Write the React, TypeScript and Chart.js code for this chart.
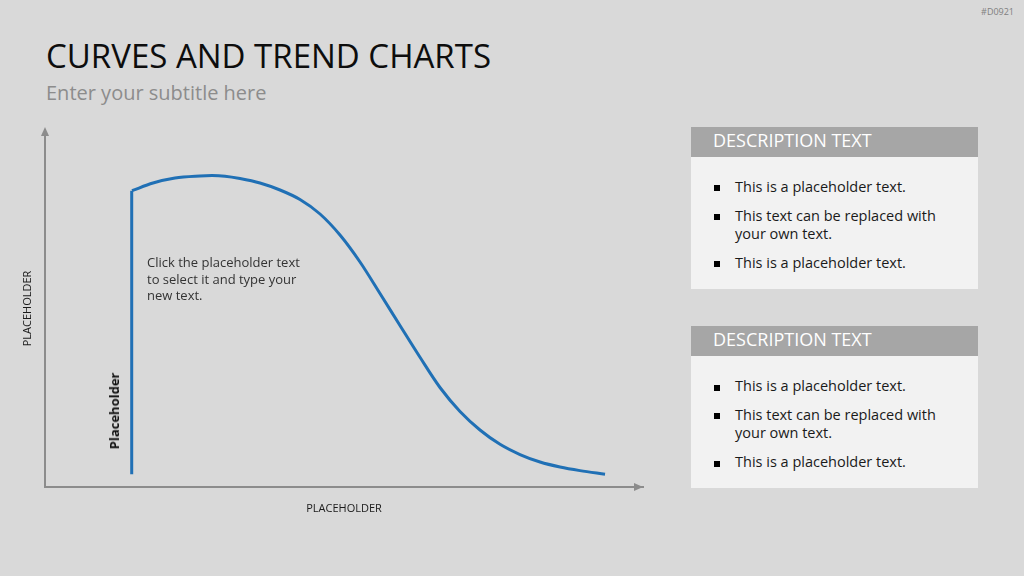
import React, { useEffect, useRef } from "react";
import { Chart, registerables } from "chart.js";

Chart.register(...registerables);

// Data (x: 0-100 along the horizontal axis, y: 0-100 up the vertical axis)
const riseX = [14.5, 14.5];
const riseY = [3.6, 83.0];
const curveX = [14.55, 18.06, 21.74, 25.92, 27.93, 30.10, 32.61, 35.95, 39.30, 42.64, 45.99, 49.33, 52.68, 56.02, 59.36, 62.71, 66.05, 69.40, 72.74, 76.09, 79.43, 82.78, 86.12, 89.46, 93.65];
const curveY = [83.0, 85.15, 86.55, 87.11, 87.23, 87.06, 86.41, 85.15, 83.19, 80.53, 76.47, 70.59, 63.03, 54.20, 45.24, 36.33, 27.87, 21.15, 15.97, 11.96, 9.10, 7.00, 5.60, 4.59, 3.59];
const xAxisTitle = "PLACEHOLDER";
const yAxisTitle = "PLACEHOLDER";
const lineLabel = "Placeholder";
const noteLines = ["Click the placeholder text", "to select it and type your", "new text."];
const boxTitles = ["DESCRIPTION TEXT", "DESCRIPTION TEXT"];
const boxBullets = [
  [["This is a placeholder text."], ["This text can be replaced with", "your own text."], ["This is a placeholder text."]],
  [["This is a placeholder text."], ["This text can be replaced with", "your own text."], ["This is a placeholder text."]],
];

const FONT = "'Open Sans', sans-serif";
const AXIS = "#8c8c8c";
const BLUE = "#2070b5";

const arrowPlugin = {
  id: "arrows",
  afterDraw(chart: any) {
    const { ctx, chartArea } = chart;
    ctx.save();
    ctx.fillStyle = AXIS;
    const lx = chartArea.left;
    const ty = chartArea.top - 3;
    ctx.beginPath();
    ctx.moveTo(lx, ty);
    ctx.lineTo(lx - 4, ty + 9);
    ctx.lineTo(lx + 4, ty + 9);
    ctx.closePath();
    ctx.fill();
    const rx = chartArea.right;
    const by = chartArea.bottom;
    ctx.beginPath();
    ctx.moveTo(rx, by);
    ctx.lineTo(rx - 9, by - 4);
    ctx.lineTo(rx - 9, by + 4);
    ctx.closePath();
    ctx.fill();
    ctx.restore();
  },
};

function CurveChart() {
  const ref = useRef<HTMLCanvasElement | null>(null);
  useEffect(() => {
    if (!ref.current) return;
    const chart = new Chart(ref.current, {
      type: "scatter",
      data: {
        datasets: [
          {
            data: riseX.map((x, i) => ({ x, y: riseY[i] })),
            showLine: true,
            borderColor: BLUE,
            borderWidth: 3,
            pointRadius: 0,
            tension: 0,
            borderCapStyle: "butt",
          },
          {
            data: curveX.map((x, i) => ({ x, y: curveY[i] })),
            showLine: true,
            borderColor: BLUE,
            borderWidth: 3,
            pointRadius: 0,
            cubicInterpolationMode: "monotone",
            borderCapStyle: "butt",
            borderJoinStyle: "round",
          },
        ],
      },
      options: {
        animation: false,
        responsive: false,
        maintainAspectRatio: false,
        layout: { padding: { left: 17.4, top: 30, right: 37, bottom: 20.8 } },
        plugins: { legend: { display: false }, tooltip: { enabled: false } },
        scales: {
          x: {
            type: "linear",
            min: 0,
            max: 100,
            grid: { display: false, drawTicks: false },
            border: { display: true, color: AXIS, width: 2 },
            ticks: { display: false },
            title: {
              display: true,
              text: xAxisTitle,
              color: "#1a1a1a",
              font: { family: FONT, size: 11 },
              padding: { top: 15, bottom: 4 },
            },
          },
          y: {
            type: "linear",
            min: 0,
            max: 100,
            grid: { display: false, drawTicks: false },
            border: { display: true, color: AXIS, width: 2 },
            ticks: { display: false },
            title: {
              display: true,
              text: yAxisTitle,
              color: "#1a1a1a",
              font: { family: FONT, size: 11 },
              padding: { top: 4, bottom: 10.4 },
            },
          },
        },
      } as any,
      plugins: [arrowPlugin],
    });
    return () => chart.destroy();
  }, []);
  return (
    <canvas
      ref={ref}
      width={680}
      height={440}
      style={{ position: "absolute", left: 0, top: 100, width: 680, height: 440 }}
    />
  );
}

function DescBox({ top, title, bullets }: { top: number; title: string; bullets: string[][] }) {
  return (
    <div style={{ position: "absolute", left: 691, top, width: 287 }}>
      <div
        style={{
          height: 30,
          lineHeight: "27px",
          background: "#a6a6a6",
          color: "#ffffff",
          fontSize: 18,
          paddingLeft: 22,
          whiteSpace: "nowrap",
        }}
      >
        {title}
      </div>
      <div style={{ background: "#f2f2f2", height: 132, paddingTop: 21, boxSizing: "border-box" }}>
        {bullets.map((lines, i) => (
          <div
            key={i}
            style={{
              position: "relative",
              paddingLeft: 44,
              fontSize: 14.5,
              lineHeight: "18.3px",
              color: "#1a1a1a",
              marginBottom: 10.7,
              whiteSpace: "nowrap",
            }}
          >
            <span
              style={{
                position: "absolute",
                left: 23,
                top: 7.5,
                width: 6,
                height: 6,
                background: "#000",
              }}
            />
            {lines.map((l, j) => (
              <div key={j}>{l}</div>
            ))}
          </div>
        ))}
      </div>
    </div>
  );
}

export default function App() {
  return (
    <div
      style={{
        position: "absolute",
        left: 0,
        top: 0,
        width: 1024,
        height: 576,
        background: "#d9d9d9",
        fontFamily: FONT,
        overflow: "hidden",
      }}
    >
      <div style={{ position: "absolute", right: 10, top: 6, fontSize: 9, color: "#808080", lineHeight: "12px" }}>
        #D0921
      </div>
      <div
        style={{
          position: "absolute",
          left: 46,
          top: 39,
          fontSize: 33,
          lineHeight: "33px",
          color: "#0d0d0d",
          whiteSpace: "nowrap",
        }}
      >
        CURVES AND TREND CHARTS
      </div>
      <div
        style={{
          position: "absolute",
          left: 46,
          top: 83,
          fontSize: 20,
          lineHeight: "20px",
          color: "#8c8c8c",
          whiteSpace: "nowrap",
        }}
      >
        Enter your subtitle here
      </div>
      <CurveChart />
      <div
        style={{
          position: "absolute",
          left: 147,
          top: 253.9,
          fontSize: 13,
          lineHeight: "16.7px",
          color: "#333333",
          whiteSpace: "nowrap",
        }}
      >
        {noteLines.map((l, i) => (
          <div key={i}>{l}</div>
        ))}
      </div>
      <div
        style={{
          position: "absolute",
          left: 114,
          top: 411,
          transform: "translate(-50%, -50%) rotate(-90deg)",
          fontSize: 13,
          fontWeight: 700,
          color: "#111111",
          whiteSpace: "nowrap",
          lineHeight: "16px",
        }}
      >
        {lineLabel}
      </div>
      <DescBox top={126.7} title={boxTitles[0]} bullets={boxBullets[0]} />
      <DescBox top={326} title={boxTitles[1]} bullets={boxBullets[1]} />
    </div>
  );
}
